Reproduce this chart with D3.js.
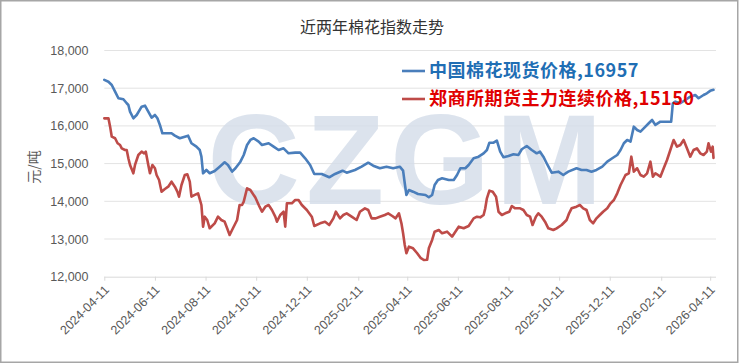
<!DOCTYPE html>
<html><head><meta charset="utf-8">
<script src="https://cdnjs.cloudflare.com/ajax/libs/d3/7.8.5/d3.min.js"></script>
<style>
html,body{margin:0;padding:0;background:#fff;}
svg{display:block;}
</style></head>
<body>
<svg id="chart" width="740" height="364"></svg>
<script>
const title = "近两年棉花指数走势";
const yTitle = "元/吨";
const yTicks = [12000, 13000, 14000, 15000, 16000, 17000, 18000];
const xTickLabels = ["2024-04-11","2024-06-11","2024-08-11","2024-10-11","2024-12-11","2025-02-11","2025-04-11","2025-06-11","2025-08-11","2025-10-11","2025-12-11","2026-02-11","2026-04-11"];
const seriesNames = ["中国棉花现货价格", "郑商所期货主力连续价格"];
const lastValues = [16957, 15150];

const spotDates = ["2024-04-11","2024-04-16","2024-04-20","2024-04-24","2024-04-28","2024-05-04","2024-05-08","2024-05-10","2024-05-12","2024-05-16","2024-05-20","2024-05-26","2024-05-30","2024-06-03","2024-06-07","2024-06-11","2024-06-14","2024-06-17","2024-06-20","2024-06-25","2024-07-01","2024-07-05","2024-07-11","2024-07-17","2024-07-21","2024-07-25","2024-07-31","2024-08-04","2024-08-06","2024-08-08","2024-08-12","2024-08-16","2024-08-22","2024-08-28","2024-09-03","2024-09-07","2024-09-12","2024-09-16","2024-09-22","2024-09-26","2024-09-30","2024-10-04","2024-10-08","2024-10-14","2024-10-18","2024-10-26","2024-11-01","2024-11-07","2024-11-13","2024-11-19","2024-11-27","2024-12-03","2024-12-09","2024-12-15","2024-12-20","2024-12-29","2025-01-07","2025-01-14","2025-01-23","2025-01-28","2025-02-07","2025-02-15","2025-02-23","2025-03-01","2025-03-09","2025-03-17","2025-03-25","2025-04-02","2025-04-06","2025-04-08","2025-04-10","2025-04-13","2025-04-18","2025-04-24","2025-05-03","2025-05-07","2025-05-11","2025-05-14","2025-05-18","2025-05-23","2025-05-31","2025-06-06","2025-06-10","2025-06-14","2025-06-20","2025-06-24","2025-06-30","2025-07-06","2025-07-12","2025-07-16","2025-07-19","2025-07-24","2025-07-28","2025-08-01","2025-08-05","2025-08-11","2025-08-17","2025-08-23","2025-08-27","2025-09-02","2025-09-08","2025-09-14","2025-09-18","2025-09-22","2025-09-27","2025-10-02","2025-10-10","2025-10-16","2025-10-22","2025-11-01","2025-11-07","2025-11-13","2025-11-19","2025-11-25","2025-12-02","2025-12-08","2025-12-14","2025-12-20","2025-12-24","2025-12-28","2026-01-01","2026-01-05","2026-01-09","2026-01-13","2026-01-17","2026-01-23","2026-01-27","2026-01-31","2026-02-04","2026-02-10","2026-02-16","2026-02-23","2026-02-25","2026-02-28","2026-03-06","2026-03-12","2026-03-18","2026-03-24","2026-03-28","2026-04-03","2026-04-07","2026-04-11","2026-04-15"];
const spotValues = [17220,17170,17085,16908,16733,16706,16600,16555,16378,16202,16290,16510,16536,16378,16218,16290,16202,16025,15804,15804,15804,15741,15672,15714,15741,15539,15449,15361,15184,14743,14831,14743,14804,14918,15035,14964,14786,14876,15051,15229,15494,15627,15672,15582,15494,15539,15449,15361,15406,15273,15290,15290,15141,14964,14725,14725,14637,14725,14812,14759,14831,14918,15024,14945,14876,14918,14876,14918,14812,14478,14168,14300,14255,14194,14168,14107,14168,14433,14565,14610,14565,14565,14698,14876,14876,14964,15141,15184,15273,15361,15555,15555,15608,15316,15167,15202,15247,15229,15380,15467,15361,15273,15316,15184,14964,14759,14786,14698,14786,14876,14831,14831,14786,14831,14918,15051,15141,15229,15361,15539,15627,15582,15980,15892,15847,15980,16070,16157,16025,16112,16112,16112,16600,16643,16600,16688,16775,16820,16733,16820,16865,16930,16957];

const futDates = ["2024-04-11","2024-04-16","2024-04-18","2024-04-20","2024-04-24","2024-04-27","2024-04-30","2024-05-02","2024-05-06","2024-05-08","2024-05-10","2024-05-12","2024-05-16","2024-05-18","2024-05-22","2024-05-26","2024-05-29","2024-05-31","2024-06-03","2024-06-05","2024-06-08","2024-06-11","2024-06-13","2024-06-16","2024-06-19","2024-06-23","2024-06-27","2024-07-01","2024-07-05","2024-07-08","2024-07-10","2024-07-13","2024-07-17","2024-07-20","2024-07-23","2024-07-25","2024-07-29","2024-08-02","2024-08-06","2024-08-08","2024-08-10","2024-08-13","2024-08-16","2024-08-22","2024-08-26","2024-08-30","2024-09-03","2024-09-06","2024-09-09","2024-09-13","2024-09-18","2024-09-21","2024-09-24","2024-09-26","2024-09-30","2024-10-04","2024-10-10","2024-10-15","2024-10-18","2024-10-22","2024-10-26","2024-10-30","2024-11-03","2024-11-05","2024-11-09","2024-11-13","2024-11-15","2024-11-17","2024-11-23","2024-11-27","2024-12-01","2024-12-05","2024-12-11","2024-12-17","2024-12-20","2024-12-27","2025-01-02","2025-01-07","2025-01-12","2025-01-15","2025-01-20","2025-01-24","2025-01-28","2025-02-03","2025-02-09","2025-02-13","2025-02-19","2025-02-23","2025-02-27","2025-03-04","2025-03-09","2025-03-15","2025-03-19","2025-03-24","2025-03-28","2025-04-01","2025-04-04","2025-04-06","2025-04-08","2025-04-10","2025-04-13","2025-04-18","2025-04-23","2025-04-27","2025-05-01","2025-05-05","2025-05-07","2025-05-11","2025-05-14","2025-05-19","2025-05-23","2025-05-29","2025-06-04","2025-06-08","2025-06-12","2025-06-18","2025-06-24","2025-06-30","2025-07-04","2025-07-08","2025-07-12","2025-07-14","2025-07-16","2025-07-19","2025-07-23","2025-07-27","2025-07-30","2025-08-03","2025-08-07","2025-08-12","2025-08-15","2025-08-19","2025-08-25","2025-08-29","2025-09-02","2025-09-06","2025-09-09","2025-09-13","2025-09-16","2025-09-20","2025-09-24","2025-09-28","2025-10-04","2025-10-08","2025-10-14","2025-10-20","2025-10-23","2025-10-26","2025-11-01","2025-11-05","2025-11-09","2025-11-13","2025-11-17","2025-11-21","2025-11-25","2025-11-29","2025-12-03","2025-12-08","2025-12-12","2025-12-16","2025-12-20","2025-12-24","2025-12-27","2025-12-30","2026-01-03","2026-01-06","2026-01-09","2026-01-13","2026-01-17","2026-01-21","2026-01-25","2026-01-29","2026-02-01","2026-02-04","2026-02-10","2026-02-14","2026-02-18","2026-02-22","2026-02-26","2026-03-02","2026-03-06","2026-03-10","2026-03-14","2026-03-18","2026-03-22","2026-03-26","2026-03-30","2026-04-03","2026-04-07","2026-04-09","2026-04-12","2026-04-14","2026-04-15"];
const futValues = [16200,16200,15980,15714,15672,15539,15494,15406,15361,15361,15141,14964,14743,14964,15229,15316,15273,15316,14964,14743,14964,14876,14698,14565,14255,14327,14388,14520,14388,14255,14122,14433,14698,14717,14520,14122,14168,14212,13902,13327,13592,13504,13284,13416,13592,13504,13459,13284,13106,13284,13504,13902,13902,13990,14345,14300,14100,13857,13724,13857,13902,13770,13592,13459,13637,13724,13327,13947,13947,14035,14035,13902,13770,13592,13345,13416,13459,13371,13548,13724,13548,13637,13681,13592,13504,13724,13814,13770,13548,13548,13592,13637,13681,13610,13548,13681,13416,13151,12841,12621,12796,12753,12621,12500,12443,12450,12753,12974,13194,13239,13151,13194,13061,13194,13327,13284,13345,13548,13592,13575,13637,13814,14080,14282,14255,14122,13724,13637,13681,13724,13875,13814,13814,13770,13637,13592,13371,13592,13681,13592,13459,13284,13239,13284,13371,13504,13681,13814,13857,13902,13814,13770,13504,13416,13548,13637,13724,13814,13947,14035,14212,14433,14565,14698,14743,15184,14786,14876,14698,14653,14743,15051,14653,14743,14653,14876,15096,15361,15627,15449,15494,15627,15406,15184,15361,15406,15273,15229,15316,15539,15316,15449,15150];

const colors = ["#4A7EBB", "#BE4B48"];
const legendColors = ["#1F6EB4", "#E00000"];

const parse = d3.timeParse("%Y-%m-%d");
const svg = d3.select("#chart");
const W = 740, H = 364;
const mLeft = 104.3, mRight = 713.5, mTop = 50.5, mBottom = 276.7;

// border
svg.append("rect").attr("x",0.75).attr("y",0.75).attr("width",W-3).attr("height",H-2.5)
  .attr("fill","#fff").attr("stroke","#a6a6a6").attr("stroke-width",1.5);

const x = d3.scaleTime().domain([parse("2024-04-11"), parse("2026-04-15")]).range([mLeft, mRight]);
const y = d3.scaleLinear().domain([12000, 18000]).range([mBottom, mTop]);

// gridlines
svg.append("g").selectAll("line").data(yTicks.slice(1)).join("line")
  .attr("x1", mLeft).attr("x2", 716).attr("y1", d => y(d)).attr("y2", d => y(d))
  .attr("stroke", "#e3e3e3").attr("stroke-width", 1);

// watermark
svg.append("text").attr("x", 408).attr("y", 204).attr("text-anchor","middle")
  .attr("font-family","Liberation Sans, Arial, sans-serif").attr("font-weight","bold")
  .attr("font-size",128).attr("letter-spacing", 6).attr("fill","#d3dce8").attr("fill-opacity",0.8)
  .text("CZGM");

// y axis labels
const yAxis = d3.axisLeft(y).tickValues(yTicks).tickFormat(d3.format(",")).tickSize(0).tickPadding(0);
const gy = svg.append("g").attr("transform", `translate(88.5,0)`).call(yAxis);
gy.select(".domain").remove();
gy.selectAll("text").attr("font-family","Liberation Sans, Arial, sans-serif").attr("font-size",12.5).attr("fill","#595959");

// x axis
const xAxis = d3.axisBottom(x).tickValues(xTickLabels.map(parse)).tickSize(4).tickFormat(d3.timeFormat("%Y-%m-%d"));
const gx = svg.append("g").attr("transform", `translate(0,${mBottom})`).call(xAxis);
gx.select(".domain").attr("d", `M${mLeft},0.5H716`).attr("stroke","#d9d9d9");
gx.selectAll(".tick line").attr("stroke","#d9d9d9");
gx.selectAll("text").attr("font-family","Liberation Sans, Arial, sans-serif").attr("font-size",12.5).attr("fill","#595959")
  .attr("text-anchor","end").attr("dx", 0).attr("dy", 0).attr("y", 0)
  .attr("transform","translate(5,14) rotate(-45)");

// lines
const line = d3.line().x(d => x(d[0])).y(d => y(d[1]));
const spot = spotDates.map((d,i) => [parse(d), spotValues[i]]);
const fut = futDates.map((d,i) => [parse(d), futValues[i]]);
[spot, fut].forEach((s,i) => {
  svg.append("path").datum(s).attr("d", line).attr("fill","none")
    .attr("stroke", colors[i]).attr("stroke-width", 2.6).attr("stroke-linejoin","round").attr("stroke-linecap","round");
});

// title
svg.append("text").attr("x", 372).attr("y", 33).attr("text-anchor","middle")
  .attr("font-family","Noto Sans CJK SC, sans-serif").attr("font-size",16).attr("fill","#333")
  .text(title);

// y title
svg.append("text").attr("transform","translate(39,167) rotate(-90)").attr("text-anchor","middle")
  .attr("font-family","Noto Sans CJK SC, sans-serif").attr("font-size",14).attr("fill","#595959")
  .text(yTitle);

// legend
const legY = [71, 99];
seriesNames.forEach((n,i) => {
  svg.append("line").attr("x1",402).attr("x2",425).attr("y1",legY[i]).attr("y2",legY[i])
    .attr("stroke", colors[i]).attr("stroke-width", 2.6);
  svg.append("text").attr("x", 429).attr("y", legY[i]).attr("dy","0.36em")
    .attr("font-family","Noto Sans CJK SC, sans-serif").attr("font-weight","bold")
    .attr("font-size",18).attr("letter-spacing",0.5).attr("fill", legendColors[i])
    .text(n + "," + lastValues[i]);
});
</script>
</body></html>
